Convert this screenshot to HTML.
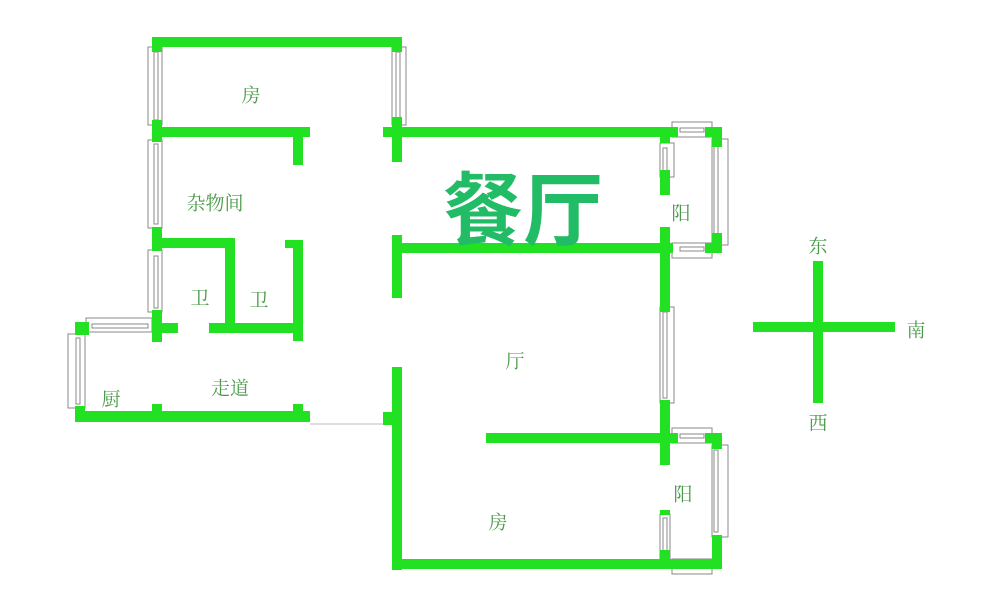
<!DOCTYPE html>
<html><head><meta charset="utf-8"><style>
html,body{margin:0;padding:0;background:#fff;width:1000px;height:608px;overflow:hidden}
svg{display:block}
text{font-family:"Liberation Serif","Noto Serif CJK SC","Noto Sans CJK SC",serif;fill:#4a9a4a;font-size:19px;text-anchor:middle;dominant-baseline:central}
</style></head><body>
<svg width="1000" height="608" viewBox="0 0 1000 608">
<g fill="#fff" stroke="#888" stroke-width="1">
<!-- windows -->
<rect x="148" y="47" width="14" height="78"/><rect x="154" y="52" width="4" height="68"/>
<rect x="392" y="47" width="14" height="78"/><rect x="396" y="52" width="4" height="68"/>
<rect x="148" y="140" width="14" height="88"/><rect x="154" y="144" width="4" height="80"/>
<rect x="148" y="250" width="14" height="62"/><rect x="154" y="256" width="4" height="52"/>
<rect x="86" y="318" width="66" height="14"/><rect x="92" y="324" width="56" height="4"/>
<rect x="68" y="334" width="17" height="74"/><rect x="76" y="338" width="4" height="66"/>
<rect x="660" y="143" width="14" height="34"/><rect x="663" y="148" width="4" height="24"/>
<rect x="672" y="122" width="40" height="15"/><rect x="680" y="128" width="24" height="4"/>
<rect x="712" y="139" width="16" height="106"/><rect x="714" y="146" width="4" height="92"/>
<rect x="672" y="243" width="40" height="15"/><rect x="680" y="247" width="24" height="4"/>
<rect x="660" y="307" width="14" height="96"/><rect x="663" y="312" width="4" height="86"/>
<rect x="672" y="428" width="40" height="15"/><rect x="680" y="434" width="24" height="4"/>
<rect x="712" y="445" width="16" height="92"/><rect x="714" y="450" width="4" height="82"/>
<rect x="660" y="514" width="10" height="46"/><rect x="663" y="518" width="4" height="38"/>
<rect x="672" y="559" width="40" height="15"/><rect x="680" y="564" width="24" height="4"/>
</g>
<line x1="310" y1="424" x2="383" y2="424" stroke="#bbb" stroke-width="1"/>
<g fill="#22e022">
<!-- top room -->
<rect x="152" y="37" width="250" height="10"/>
<rect x="152" y="37" width="10" height="15"/><rect x="392" y="37" width="10" height="15"/>
<rect x="152" y="120" width="10" height="22"/>
<rect x="152" y="127" width="158" height="10"/>
<rect x="293" y="127" width="10" height="38"/>
<rect x="392" y="117" width="10" height="45"/>
<rect x="383" y="127" width="295" height="10"/>
<!-- left side -->
<rect x="152" y="227" width="10" height="24"/>
<rect x="152" y="238" width="82" height="10"/>
<rect x="225" y="238" width="10" height="95"/>
<rect x="152" y="310" width="10" height="32"/>
<rect x="152" y="323" width="26" height="10"/>
<rect x="209" y="323" width="93" height="10"/>
<rect x="293" y="240" width="10" height="101"/>
<rect x="285" y="240" width="10" height="8"/>
<!-- kitchen / corridor -->
<rect x="75" y="322" width="14" height="13"/>
<rect x="75" y="322" width="10" height="13"/>
<rect x="75" y="406" width="10" height="16"/>
<rect x="75" y="411" width="235" height="11"/>
<rect x="152" y="404" width="10" height="10"/>
<rect x="293" y="404" width="10" height="10"/>
<!-- dining -->
<rect x="392" y="235" width="10" height="63"/>
<rect x="392" y="243" width="281" height="10"/>
<rect x="660" y="127" width="10" height="16"/>
<rect x="660" y="170" width="10" height="25"/>
<rect x="660" y="227" width="10" height="85"/>
<rect x="705" y="127" width="17" height="10"/><rect x="712" y="127" width="10" height="20"/>
<rect x="705" y="243" width="17" height="10"/><rect x="712" y="233" width="10" height="20"/>
<!-- living / bedroom -->
<rect x="392" y="367" width="10" height="203"/>
<rect x="383" y="412" width="10" height="13"/>
<rect x="660" y="400" width="10" height="65"/>
<rect x="486" y="433" width="192" height="10"/>
<rect x="705" y="433" width="17" height="10"/><rect x="712" y="433" width="10" height="16"/>
<rect x="660" y="510" width="10" height="5"/>
<rect x="392" y="559" width="330" height="10"/>
<rect x="660" y="550" width="10" height="19"/>
<rect x="712" y="535" width="10" height="34"/>
<!-- compass -->
<rect x="813" y="261" width="10" height="142"/>
<rect x="753" y="322" width="142" height="10"/>
</g>
<text x="251" y="96">房</text>
<text x="215" y="204">杂物间</text>
<text x="200" y="299">卫</text>
<text x="259" y="301">卫</text>
<text x="230" y="389">走道</text>
<text x="111" y="400">厨</text>
<text x="681" y="214">阳</text>
<text x="515" y="362">厅</text>
<text x="683" y="495">阳</text>
<text x="498" y="523">房</text>
<text x="818" y="247">东</text>
<text x="916" y="331">南</text>
<text x="818" y="424">西</text>
<text x="523" y="205" style="font-family:'Noto Sans CJK SC',sans-serif;font-weight:bold;font-size:80px;fill:#22bb66">餐厅</text>
</svg>
</body></html>
